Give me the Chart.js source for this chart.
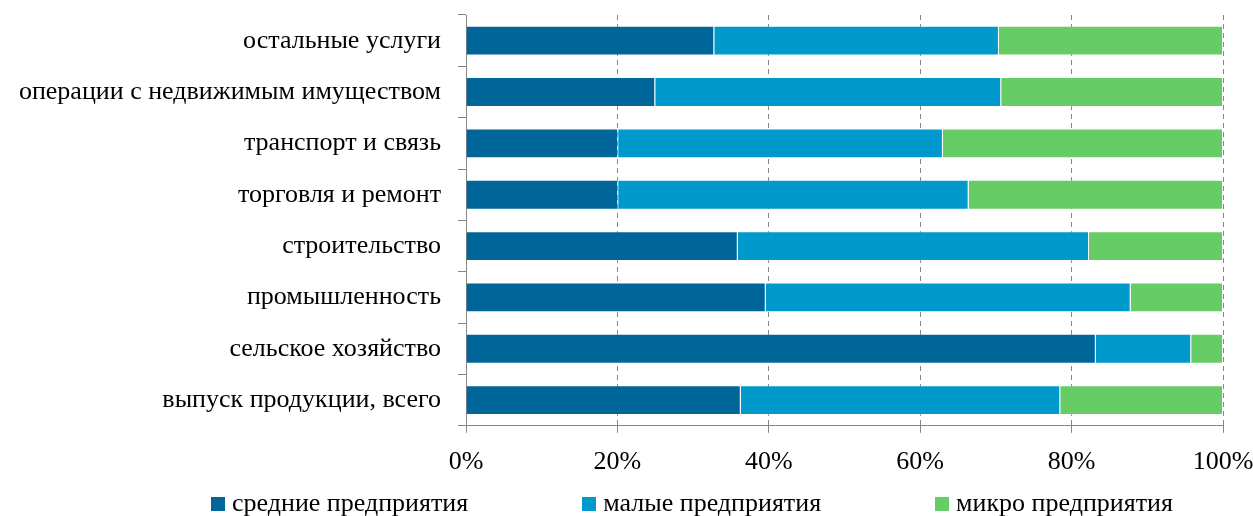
<!DOCTYPE html>
<html>
<head>
<meta charset="utf-8">
<script src="https://cdn.jsdelivr.net/npm/chart.js@4/dist/chart.umd.min.js"></script>
<style>
  html, body { margin: 0; padding: 0; background: #fff; }
  #wrap { width: 1253px; height: 516px; position: relative; }
  #chart { display: block; position: absolute; left: 0; top: 0; }
  #legend {
    position: absolute; left: 0; top: 488px;
    display: flex; gap: 114px; padding-left: 211px; padding-top: 1px;
    font: 26px/28px 'Liberation Serif', 'Times New Roman', serif; color: #000;
  }
  #legend span.item { display: flex; align-items: center; white-space: nowrap; }
  #legend span.box { display: inline-block; width: 14px; height: 14px; margin-right: 7px; margin-top: 2px; }
</style>
</head>
<body>
<div id="wrap">
  <canvas id="chart" width="1253" height="501"></canvas>
  <div id="legend"></div>
</div>
<script>
// категории (сверху вниз)
const categories = [
  'остальные услуги',
  'операции с недвижимым имуществом',
  'транспорт и связь',
  'торговля и ремонт',
  'строительство',
  'промышленность',
  'сельское хозяйство',
  'выпуск продукции, всего'
];

// доли, %
const medium = [32.8, 25.0, 20.1, 20.1, 35.9, 39.6, 83.2, 36.3];
const small  = [37.6, 45.7, 42.9, 46.3, 46.4, 48.2, 12.6, 42.2];
const micro  = [29.6, 29.3, 37.0, 33.6, 17.7, 12.2,  4.2, 21.5];

const seriesNames = ['средние предприятия', 'малые предприятия', 'микро предприятия'];
const xTicks = [0, 20, 40, 60, 80, 100];

const font = { family: "'Liberation Serif', 'Times New Roman', serif", size: 26 };
const gray = '#868686';

const ctx = document.getElementById('chart').getContext('2d');

const chart = new Chart(ctx, {
  type: 'bar',
  data: {
    labels: categories,
    datasets: [
      { label: seriesNames[0], data: medium, backgroundColor: '#006699' },
      { label: seriesNames[1], data: small,  backgroundColor: '#0099cc' },
      { label: seriesNames[2], data: micro,  backgroundColor: '#66cc66' }
    ].map(d => Object.assign(d, {
      borderColor: 'rgba(255,255,255,0.35)',
      borderWidth: 1,
      barPercentage: 0.6,
      categoryPercentage: 0.97
    }))
  },
  options: {
    indexAxis: 'y',
    responsive: false,
    animation: false,
    layout: { padding: { top: 15, right: 30, left: 0, bottom: 9 } },
    plugins: {
      tooltip: { enabled: false },
      legend: { display: false }
    },
    scales: {
      x: {
        stacked: true,
        min: 0,
        max: 100,
        afterBuildTicks: s => { s.ticks = xTicks.map(v => ({ value: v })); },
        afterFit: s => { s.paddingLeft = 0; s.paddingRight = 0; },
        ticks: { font, color: '#000', padding: 14, maxRotation: 0, callback: v => v + '%' },
        grid: { color: gray, tickLength: 7, tickBorderDash: [] },
        border: { color: gray, dash: [5, 4] }
      },
      y: {
        stacked: true,
        afterFit: s => { s.width = 466; s.paddingTop = 0; s.paddingBottom = 0; },
        ticks: { font, color: '#000', padding: 17 },
        grid: { color: gray, drawOnChartArea: false, tickLength: 8 },
        border: { color: gray }
      }
    }
  }
});

// легенда
const legend = document.getElementById('legend');
chart.data.datasets.forEach(ds => {
  const item = document.createElement('span');
  item.className = 'item';
  const box = document.createElement('span');
  box.className = 'box';
  box.style.background = ds.backgroundColor;
  item.appendChild(box);
  item.appendChild(document.createTextNode(ds.label));
  legend.appendChild(item);
});
</script>
</body>
</html>
